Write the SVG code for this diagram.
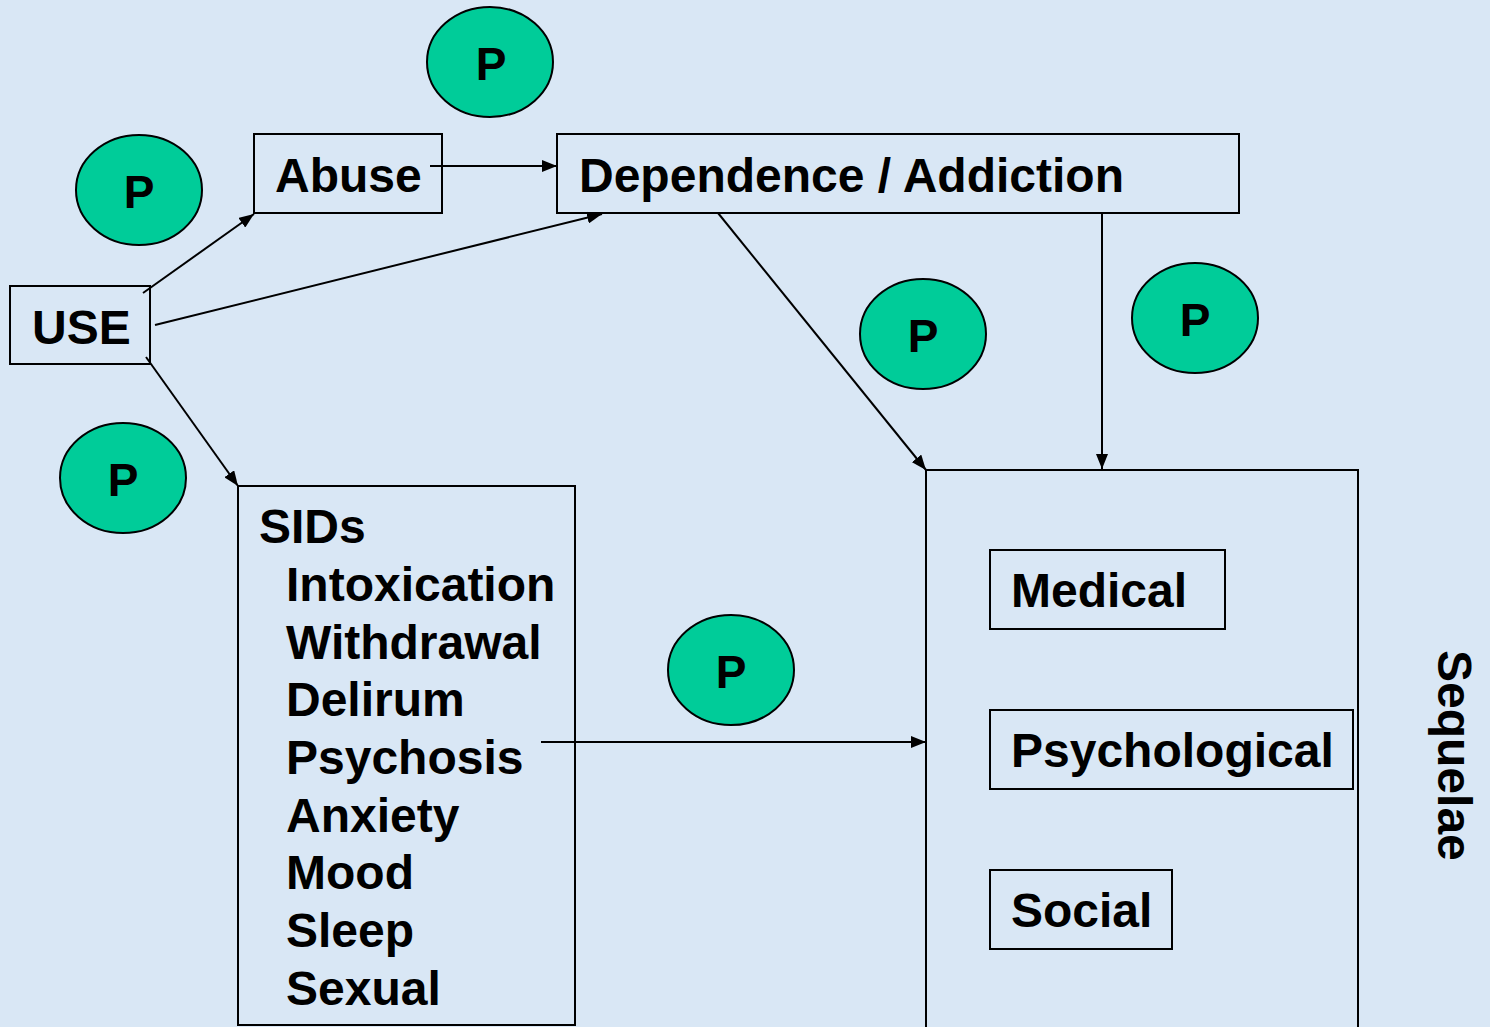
<svg xmlns="http://www.w3.org/2000/svg" width="1490" height="1027" viewBox="0 0 1490 1027">
<style>
.box{fill:none;stroke:#000;stroke-width:2}
.t{font-family:"Liberation Sans",Arial,sans-serif;font-weight:bold;font-size:48px;fill:#000}
.p{fill:#00cc99;stroke:#000;stroke-width:2}
.pt{font-family:"Liberation Sans",Arial,sans-serif;font-weight:bold;font-size:46px;fill:#000;text-anchor:middle}
.c{stroke:#000;stroke-width:2;fill:none;marker-end:url(#ah)}
</style>
<defs>
<marker id="ah" viewBox="0 0 15 12" refX="15" refY="6" markerWidth="15" markerHeight="12" markerUnits="userSpaceOnUse" orient="auto">
<path d="M0,0 L15,6 L0,12 Z" fill="#000"/>
</marker>
</defs>
<rect x="0" y="0" width="1490" height="1027" fill="#d9e7f5"/>
<g id="connectors">
<line class="c" x1="430" y1="166" x2="557" y2="166"/>
<line class="c" x1="143" y1="293" x2="254" y2="214"/>
<line class="c" x1="155" y1="325" x2="602" y2="214"/>
<line class="c" x1="146" y1="357" x2="238" y2="486"/>
<line class="c" x1="718" y1="213" x2="926" y2="470"/>
<line class="c" x1="1102" y1="213" x2="1102" y2="469"/>
<line class="c" x1="541" y1="742" x2="926" y2="742"/>
</g>
<g id="use"><rect class="box" x="10" y="286" width="140" height="78"/><text class="t" x="32" y="344">USE</text></g>
<g id="abuse"><rect class="box" x="254" y="134" width="188" height="79"/><text class="t" x="275" y="192">Abuse</text></g>
<g id="dependence"><rect class="box" x="557" y="134" width="682" height="79"/><text class="t" x="579" y="192">Dependence / Addiction</text></g>
<g id="sids"><rect class="box" x="238" y="486" width="337" height="539"/>
<text class="t" x="259" y="543">SIDs</text>
<text class="t" x="286" y="601">Intoxication</text>
<text class="t" x="286" y="659">Withdrawal</text>
<text class="t" x="286" y="716">Delirum</text>
<text class="t" x="286" y="774">Psychosis</text>
<text class="t" x="286" y="832">Anxiety</text>
<text class="t" x="286" y="889">Mood</text>
<text class="t" x="286" y="947">Sleep</text>
<text class="t" x="286" y="1005">Sexual</text>
</g>
<g id="sequelae"><path class="box" d="M926,1040 V470 H1358 V1040"/>
<text class="t" transform="translate(1438,650) rotate(90)">Sequelae</text></g>
<g id="medical"><rect class="box" x="990" y="550" width="235" height="79"/><text class="t" x="1011" y="607">Medical</text></g>
<g id="psychological"><rect class="box" x="990" y="710" width="363" height="79"/><text class="t" x="1011" y="767">Psychological</text></g>
<g id="social"><rect class="box" x="990" y="870" width="182" height="79"/><text class="t" x="1011" y="927">Social</text></g>
<g id="p1"><ellipse class="p" cx="490" cy="62" rx="63" ry="55"/><text class="pt" x="491" y="80">P</text></g>
<g id="p2"><ellipse class="p" cx="139" cy="190" rx="63" ry="55"/><text class="pt" x="139" y="208">P</text></g>
<g id="p3"><ellipse class="p" cx="923" cy="334" rx="63" ry="55"/><text class="pt" x="923" y="352">P</text></g>
<g id="p4"><ellipse class="p" cx="1195" cy="318" rx="63" ry="55"/><text class="pt" x="1195" y="336">P</text></g>
<g id="p5"><ellipse class="p" cx="123" cy="478" rx="63" ry="55"/><text class="pt" x="123" y="496">P</text></g>
<g id="p6"><ellipse class="p" cx="731" cy="670" rx="63" ry="55"/><text class="pt" x="731" y="688">P</text></g>
</svg>
